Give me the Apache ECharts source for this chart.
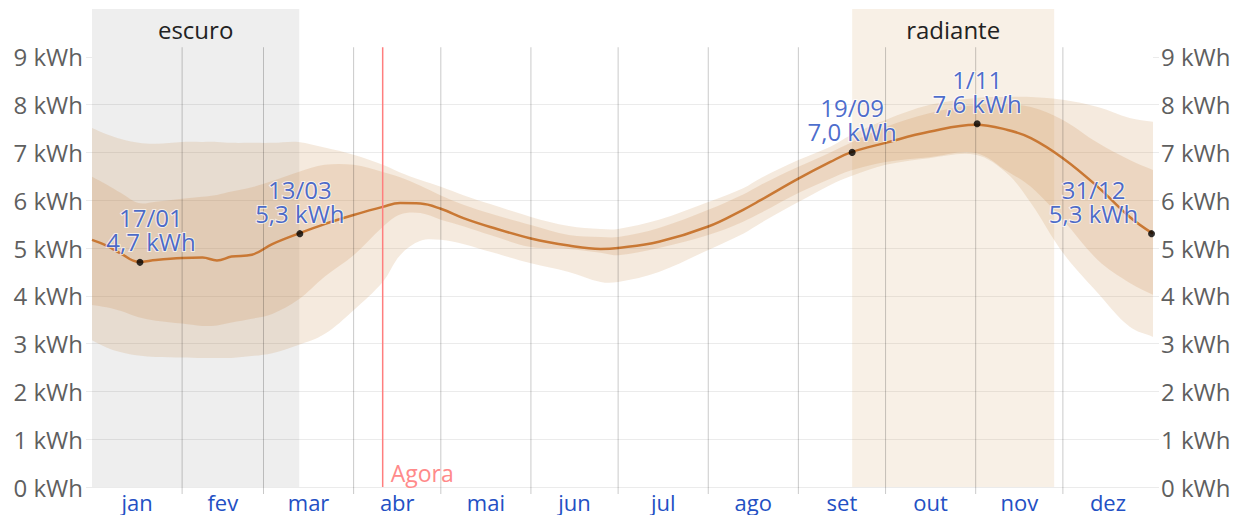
<!DOCTYPE html>
<html>
<head>
<meta charset="utf-8">
<script src="https://cdn.jsdelivr.net/npm/echarts@6/dist/echarts.min.js"></script>
<style>
  html, body { margin: 0; padding: 0; background: #fff; }
  #main { width: 1236px; height: 515px; }
</style>
</head>
<body>
<div id="main"></div>
<script>
// eixo x: dia do ano (0..365)
const monthNames = ['jan', 'fev', 'mar', 'abr', 'mai', 'jun', 'jul', 'ago', 'set', 'out', 'nov', 'dez'];
const monthStarts = [31, 59, 90, 120, 151, 181, 212, 243, 273, 304, 334];
const monthMids = [15.5, 45, 74.5, 105, 135.5, 166, 196.5, 227.5, 258, 288.5, 319, 349.5];
const yTicks = [0, 1, 2, 3, 4, 5, 6, 7, 8, 9];

// energia solar diária (kWh)
const days = [0, 5, 10, 16, 22, 31, 38, 43, 48, 55, 62, 71, 80, 90, 100, 106, 113, 120, 128, 137,
  151, 164, 175, 181, 195, 212, 224, 230, 243, 254, 261, 273, 288, 304, 315, 323, 334, 346, 357, 365];
const median = [5.17, 5.05, 4.88, 4.71, 4.75, 4.79, 4.80, 4.74, 4.82, 4.86, 5.08, 5.30, 5.50, 5.69, 5.86, 5.94, 5.93, 5.82, 5.62, 5.44,
  5.20, 5.05, 4.98, 5.00, 5.13, 5.45, 5.80, 6.00, 6.45, 6.80, 7.00, 7.20, 7.43, 7.58, 7.47, 7.30, 6.88, 6.28, 5.65, 5.30];
const p75 = [6.49, 6.33, 6.15, 5.94, 5.97, 6.03, 6.07, 6.11, 6.18, 6.27, 6.40, 6.59, 6.74, 6.74, 6.59, 6.48, 6.30, 6.10, 5.90, 5.72,
  5.48, 5.27, 5.23, 5.23, 5.42, 5.80, 6.12, 6.32, 6.70, 7.00, 7.20, 7.53, 7.82, 7.99, 8.00, 7.95, 7.68, 7.20, 6.84, 6.63];
const p25 = [3.81, 3.76, 3.68, 3.55, 3.48, 3.42, 3.37, 3.38, 3.44, 3.52, 3.62, 3.92, 4.40, 4.85, 5.44, 5.70, 5.73, 5.59, 5.45, 5.27,
  5.02, 4.98, 4.90, 4.85, 5.00, 5.27, 5.55, 5.73, 6.15, 6.45, 6.62, 6.80, 6.90, 6.99, 6.60, 6.28, 5.59, 4.75, 4.27, 4.02];
const p90 = [7.51, 7.38, 7.28, 7.20, 7.18, 7.22, 7.22, 7.22, 7.20, 7.20, 7.20, 7.22, 7.10, 6.95, 6.74, 6.58, 6.42, 6.28, 6.10, 5.92,
  5.65, 5.46, 5.40, 5.40, 5.59, 5.96, 6.25, 6.46, 6.84, 7.12, 7.36, 7.68, 7.99, 8.14, 8.16, 8.16, 8.10, 7.95, 7.72, 7.64];
const p10 = [3.07, 2.92, 2.82, 2.75, 2.72, 2.71, 2.70, 2.70, 2.70, 2.74, 2.80, 2.97, 3.20, 3.70, 4.29, 4.85, 5.15, 5.17, 5.08, 4.92,
  4.68, 4.50, 4.29, 4.29, 4.50, 4.96, 5.30, 5.52, 5.96, 6.32, 6.50, 6.74, 6.88, 6.95, 6.55, 5.94, 4.90, 4.06, 3.35, 3.14];

// pontos destacados
const highlightDays = [16.5, 71.5, 261.5, 304.5, 364.5];
const highlightValues = [4.7, 5.3, 7.0, 7.6, 5.3];
const highlightDates = ['17/01', '13/03', '19/09', '1/11', '31/12'];

// períodos
const darkPeriod = [0, 71.3];
const brightPeriod = [261.5, 331];
const nowDay = 100;

const FONT = '"Open Sans", "Noto Sans", sans-serif';
const labelShift = [[11, 0], [0, 0], [0, 0], [0, 0], [-58, 0]];

const pairs = arr => days.map((d, i) => [d, arr[i]]);
const kwh = v => v.toFixed(1).replace('.', ',') + ' kWh';

const myChart = echarts.init(document.getElementById('main'), null, { renderer: 'svg' });

// faixa entre dois percentis, desenhada como um polígono suavizado
function band(name, lo, hi, color) {
  return {
    name: name,
    type: 'custom',
    silent: true,
    clip: true,
    z: 2,
    data: days.map((d, i) => [d, lo[i], hi[i]]),
    encode: { x: 0, y: [1, 2] },
    renderItem: (params, api) => {
      if (params.dataIndex !== 0) return null;
      const top = days.map((d, i) => api.coord([d, hi[i]]));
      const bottom = days.map((d, i) => api.coord([d, lo[i]])).reverse();
      // pontos repetidos nos cantos para não arredondar as pontas
      const pts = [top[0]].concat(top, [top[top.length - 1]], [bottom[0]], bottom, [bottom[bottom.length - 1]]);
      return {
        type: 'polygon',
        shape: { points: pts, smooth: 0.35 },
        style: { fill: color }
      };
    }
  };
}

const gridColors = yTicks.map(() => 'rgba(0,0,0,0.08)').concat(['rgba(0,0,0,0)']);

const option = {
  animation: false,
  textStyle: { fontFamily: FONT },
  grid: { left: 92, right: 83, top: 9, bottom: 28 },
  xAxis: {
    type: 'value',
    min: 0,
    max: 365,
    axisLine: { show: false },
    axisTick: { show: false },
    splitLine: { show: false },
    axisLabel: {
      customValues: monthMids,
      formatter: v => monthNames[monthMids.indexOf(v)],
      color: '#2350c4',
      fontSize: 22,
      lineHeight: 22,
      margin: 4,
      fontFamily: FONT
    }
  },
  yAxis: [
    {
      type: 'value',
      min: 0,
      max: 10,
      interval: 1,
      axisLine: { show: false },
      axisTick: { show: true, customValues: yTicks, length: 6, lineStyle: { color: 'rgba(0,0,0,0.08)' } },
      splitLine: { show: true, showMaxLine: false, lineStyle: { color: gridColors } },
      axisLabel: { customValues: yTicks, formatter: v => v + ' kWh', color: '#5f5f5f', fontSize: 24, margin: 9, fontFamily: FONT }
    },
    {
      type: 'value',
      position: 'right',
      min: 0,
      max: 10,
      interval: 1,
      axisLine: { show: false },
      axisTick: { show: true, customValues: yTicks, length: 6, lineStyle: { color: 'rgba(0,0,0,0.08)' } },
      splitLine: { show: false },
      axisLabel: { customValues: yTicks, formatter: v => v + ' kWh', color: '#5f5f5f', fontSize: 24, margin: 8, fontFamily: FONT }
    }
  ],
  series: [
    band('p10-p90', p10, p90, 'rgba(205,150,90,0.2)'),
    band('p25-p75', p25, p75, 'rgba(200,130,60,0.18)'),
    {
      name: 'mediana',
      type: 'line',
      data: pairs(median),
      smooth: 0.4,
      symbol: 'none',
      silent: true,
      lineStyle: { color: '#c97834', width: 2.5 },
      z: 4,
      markArea: {
        silent: true,
        label: { show: true, position: 'insideTop', distance: 8, color: '#222', fontSize: 24, fontFamily: FONT },
        data: [
          [{ name: 'escuro', xAxis: darkPeriod[0], itemStyle: { color: 'rgba(0,0,0,0.065)' } }, { xAxis: darkPeriod[1] }],
          [{ name: 'radiante', xAxis: brightPeriod[0], itemStyle: { color: 'rgba(215,165,105,0.17)' } }, { xAxis: brightPeriod[1] }]
        ]
      }
    },
    {
      name: 'meses',
      type: 'custom',
      silent: true,
      z: 5,
      data: monthStarts.map(d => [d, 0]),
      renderItem: (params, api) => {
        const x = api.value(0);
        const top = api.coord([x, 9.2]);
        const bottom = api.coord([x, 0]);
        return {
          type: 'line',
          shape: { x1: top[0], y1: top[1], x2: bottom[0], y2: bottom[1] + 7 },
          style: { stroke: 'rgba(0,0,0,0.21)', lineWidth: 1 }
        };
      }
    },
    {
      name: 'agora',
      type: 'custom',
      silent: true,
      z: 6,
      data: [[nowDay, 0]],
      renderItem: (params, api) => {
        const x = api.value(0);
        const top = api.coord([x, 9.2]);
        const bottom = api.coord([x, 0]);
        return {
          type: 'group',
          children: [
            {
              type: 'line',
              shape: { x1: top[0], y1: top[1], x2: bottom[0], y2: bottom[1] },
              style: { stroke: '#ff7e7e', lineWidth: 1.5 }
            },
            {
              type: 'text',
              x: bottom[0] + 8,
              y: bottom[1] - 3,
              style: { text: 'Agora', fill: '#ff8a8a', font: '23px ' + FONT, align: 'left', verticalAlign: 'bottom' }
            }
          ]
        };
      }
    },
    {
      name: 'destaques',
      type: 'scatter',
      silent: true,
      z: 8,
      symbolSize: 7,
      itemStyle: { color: '#000' },
      data: highlightDays.map((d, i) => ({
        value: [d, highlightValues[i]],
        label: { offset: labelShift[i] }
      })),
      label: {
        show: true,
        position: 'top',
        distance: 5,
        color: '#1c47c0',
        fontSize: 24,
        lineHeight: 24,
        fontFamily: FONT,
        textBorderColor: 'rgba(255,255,255,0.85)',
        textBorderWidth: 2,
        formatter: p => highlightDates[p.dataIndex] + '\n' + kwh(highlightValues[p.dataIndex])
      }
    }
  ]
};

myChart.setOption(option, true);
</script>
</body>
</html>
